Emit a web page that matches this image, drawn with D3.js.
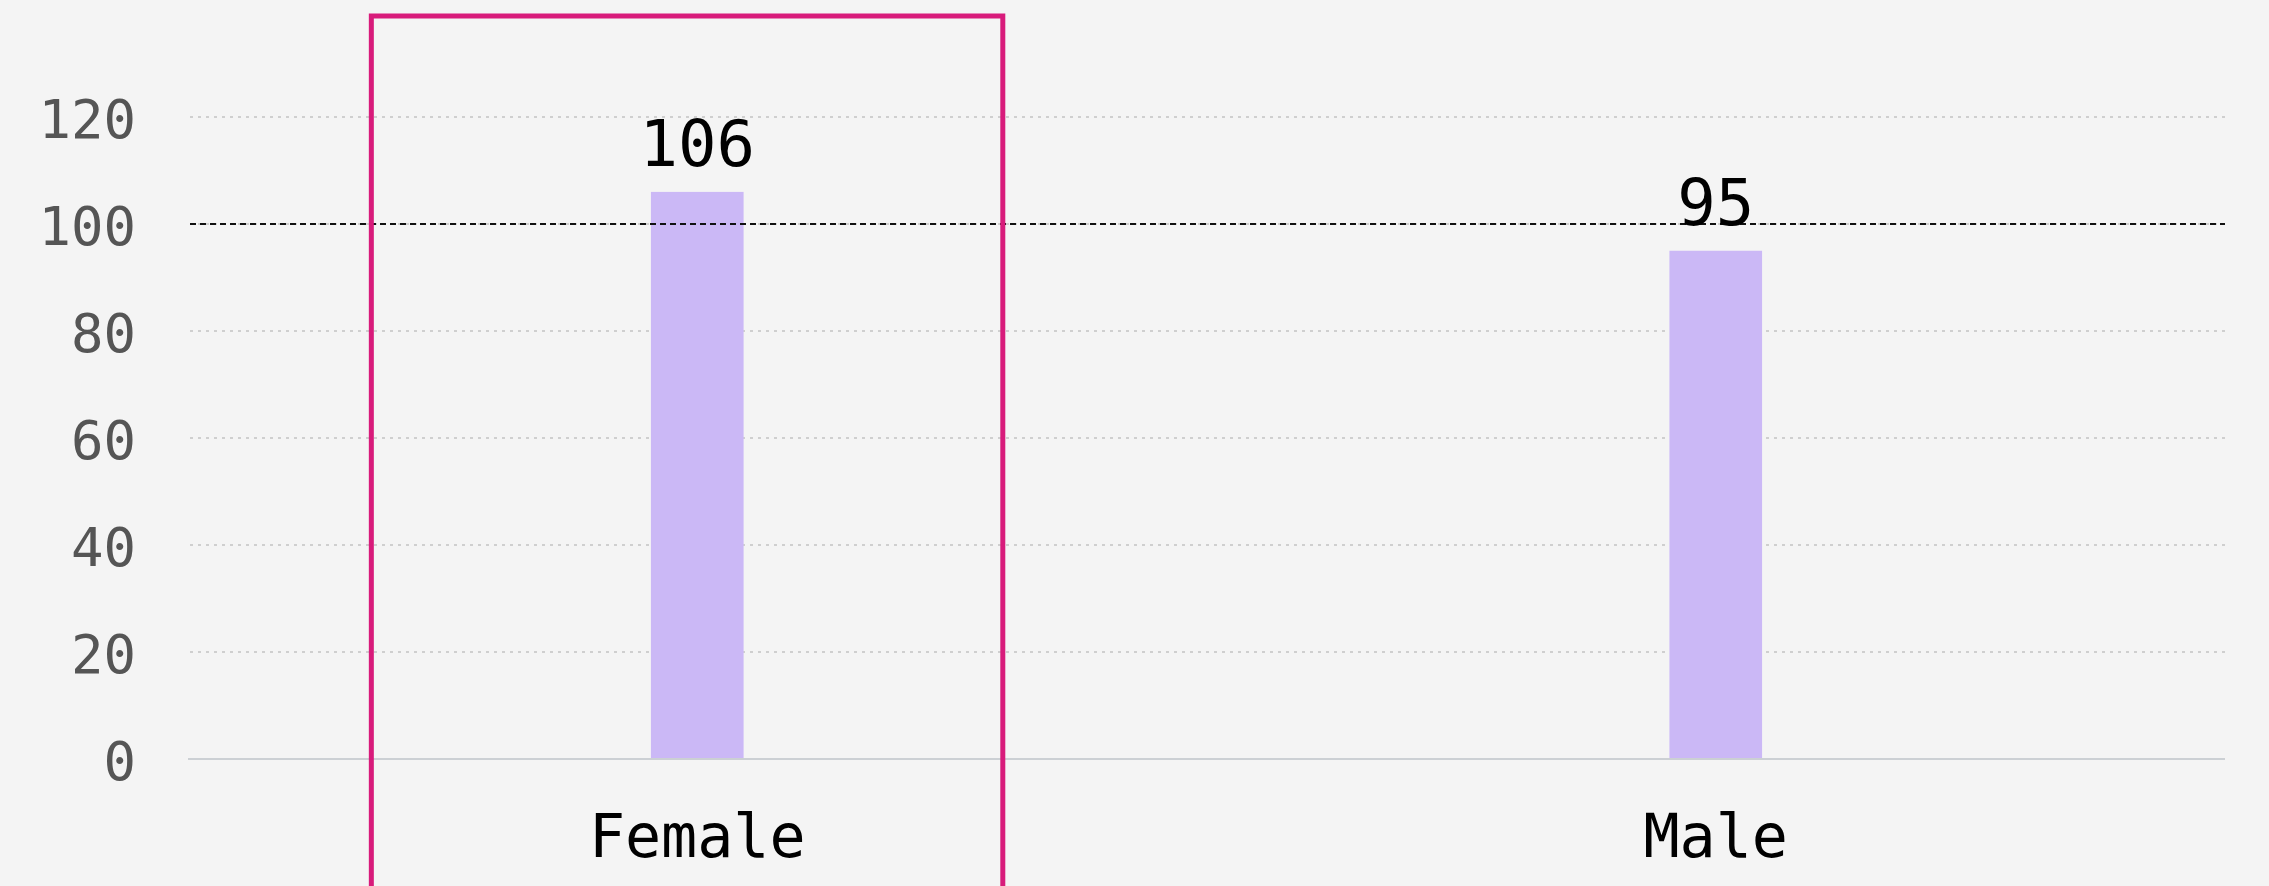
<!DOCTYPE html>
<html>
<head>
<meta charset="utf-8">
<script src="https://cdn.jsdelivr.net/npm/d3@7"></script>
<style>
  html, body { margin: 0; padding: 0; background: #f4f4f4; }
  svg { display: block; }
  text { font-family: "DejaVu Sans Mono", monospace; }
</style>
</head>
<body>
<svg id="chart" width="2269" height="886"></svg>
<script>
const categories = ["Female", "Male"];
const values = [106, 95];
const yTicks = [0, 20, 40, 60, 80, 100, 120];
const referenceValue = 100;
const highlighted = "Female";

const FONT = "DejaVu Sans Mono, monospace";
const W = 2269, H = 886;
const svg = d3.select("#chart");
svg.append("rect").attr("width", W).attr("height", H).attr("fill", "#f4f4f4");

const x = d3.scaleBand().domain(categories).range([188, 2225]).padding(0);
const y = d3.scaleLinear().domain([0, 120]).range([759, 117]);

// gridlines
svg.append("g").selectAll("line")
  .data(yTicks.filter(d => d !== 0))
  .join("line")
  .attr("x1", 190).attr("x2", 2225)
  .attr("y1", d => y(d)).attr("y2", d => y(d))
  .attr("stroke", "#cfcfcf").attr("stroke-width", 2)
  .attr("stroke-dasharray", "3,5");

// y tick labels via axis
const yAxis = svg.append("g")
  .attr("transform", "translate(136,0)")
  .call(d3.axisLeft(y).tickValues(yTicks).tickSize(0).tickPadding(0));
yAxis.select(".domain").remove();
yAxis.selectAll("text")
  .attr("font-family", FONT)
  .attr("font-size", 54)
  .attr("dy", "0.38em")
  .attr("fill", "#555555");

// bars
const barW = x.step() * 0.091;
svg.append("g").selectAll("rect")
  .data(categories)
  .join("rect")
  .attr("x", (d) => x(d) + x.bandwidth() / 2 - barW / 2)
  .attr("width", barW)
  .attr("y", (d, i) => y(values[i]))
  .attr("height", (d, i) => y(0) - y(values[i]))
  .attr("fill", "#cbb8f6");

// baseline
svg.append("line")
  .attr("x1", 188).attr("x2", 2225)
  .attr("y1", y(0)).attr("y2", y(0))
  .attr("stroke", "#ccd0d4").attr("stroke-width", 2);

// reference line
svg.append("line")
  .attr("x1", 190).attr("x2", 2225)
  .attr("y1", y(referenceValue)).attr("y2", y(referenceValue))
  .attr("stroke", "#111").attr("stroke-width", 2)
  .attr("stroke-dasharray", "6,4");

// value labels
svg.append("g").selectAll("text")
  .data(categories)
  .join("text")
  .attr("x", d => x(d) + x.bandwidth() / 2)
  .attr("y", (d, i) => y(values[i]) - 26)
  .attr("text-anchor", "middle")
  .attr("font-family", FONT)
  .attr("font-size", 64)
  .attr("fill", "#000")
  .text((d, i) => values[i]);

// category labels
const xAxis = svg.append("g")
  .attr("transform", `translate(0,${y(0)})`)
  .call(d3.axisBottom(x).tickSize(0).tickPadding(0));
xAxis.select(".domain").remove();
xAxis.selectAll("text")
  .attr("dy", null)
  .attr("y", 98)
  .attr("font-family", FONT)
  .attr("font-size", 60)
  .attr("fill", "#000");

// highlight box
svg.append("rect")
  .attr("x", x(highlighted) + x.step() * 0.18)
  .attr("y", 16)
  .attr("width", x.step() * 0.62)
  .attr("height", 900)
  .attr("fill", "none")
  .attr("stroke", "#d81b7b")
  .attr("stroke-width", 5);
</script>
</body>
</html>
